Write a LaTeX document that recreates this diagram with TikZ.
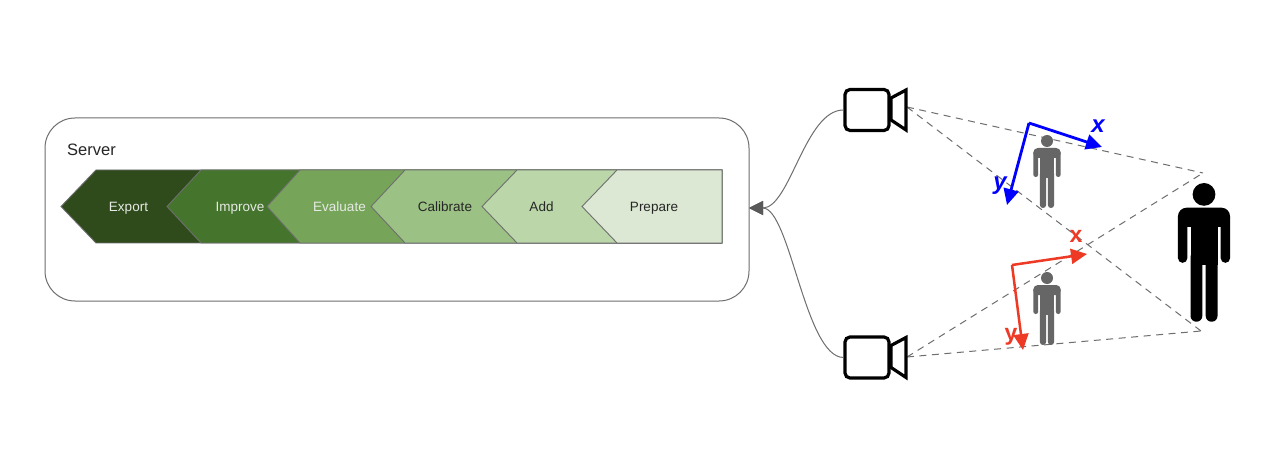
\documentclass[tikz,border=0pt]{standalone}
\usepackage{fontspec}
\setmainfont{Liberation Sans}
\usetikzlibrary{arrows.meta}
\definecolor{cA}{HTML}{2F4A1B}
\definecolor{cB}{HTML}{45752D}
\definecolor{cC}{HTML}{76A55A}
\definecolor{cD}{HTML}{9CC184}
\definecolor{cE}{HTML}{BBD6A9}
\definecolor{cF}{HTML}{DCE8D3}
\definecolor{axisred}{HTML}{EE3A24}
\definecolor{edgegrey}{HTML}{6E6E6E}
\definecolor{persongrey}{HTML}{666666}
\tikzset{
  serverbox/.style={draw=edgegrey,line width=1pt,rounded corners=30pt,minimum width=704pt,minimum height=183pt,inner sep=0pt,fill=white},
  chev/.style={draw=edgegrey,line width=0.9pt,line join=miter},
  lighttext/.style={anchor=base,text=white!88!cA,font=\fontsize{13.5}{16}\selectfont,inner sep=0pt},
  darktext/.style={anchor=base,text=black!85,font=\fontsize{13.5}{16}\selectfont,inner sep=0pt},
  link/.style={draw=edgegrey,line width=1pt,-{Triangle[length=14pt,width=14pt,fill=black!65,color=black!65]}},
  sight/.style={draw=edgegrey,line width=1pt,dash pattern=on 7pt off 5.5pt},
  cambody/.style={draw=black,line width=3.2pt,rounded corners=5pt,minimum width=44pt,minimum height=41pt,inner sep=0pt,fill=white},
  camlens/.style={draw=black,line width=3.2pt,line join=miter,fill=white},
  bluearrow/.style={draw=blue,line width=2.8pt,line join=miter,-{Triangle[length=16pt,width=15pt]}},
  redarrow/.style={draw=axisred,line width=2.5pt,line join=miter,-{Triangle[length=16pt,width=15pt]}},
  bluelabel/.style={text=blue,inner sep=0pt,font=\fontsize{24}{26}\selectfont\bfseries\itshape},
  redlabel/.style={text=axisred,inner sep=0pt,font=\fontsize{23}{26}\selectfont\bfseries},
}
% #1 x of the centre, #2 y of the head top, #3 scale, #4 colour
\newcommand{\personfig}[4]{%
  \begin{scope}[shift={(#1,#2)},x=#3pt,y=-#3pt]
    \pgfmathsetmacro{\rr}{#3*4.5}
    \pgfmathsetmacro{\rs}{#3*2.4}
    \pgfmathsetmacro{\rl}{#3*3}
    \fill[#4] (0,6) circle[radius=6];
    \fill[#4,rounded corners=\rr pt] (-13.7,13) -- (13.7,13) -- (13.7,23) -- (-13.7,23) -- cycle;
    \fill[#4,rounded corners=\rs pt] (-13.7,16) rectangle (-8.8,42);
    \fill[#4,rounded corners=\rs pt] (8.8,16) rectangle (13.7,42);
    \fill[#4] (-8.8,17) rectangle (8.8,23);
    \fill[#4] (-7.1,20) rectangle (7.1,43);
    \fill[#4,rounded corners=\rl pt] (-7.1,36) rectangle (-0.9,73);
    \fill[#4,rounded corners=\rl pt] (0.9,36) rectangle (7.1,73);
  \end{scope}}
\begin{document}
\begin{tikzpicture}[x=1pt,y=-1pt]
\useasboundingbox (0,0) rectangle (1279,462);
\fill[white] (0,0) rectangle (1279,462);

% server
\node[serverbox] (server) at (397,209.5) {};
\node[anchor=base west,inner sep=0pt,text=black!85,font=\fontsize{16.5}{20}\selectfont] (servertitle) at (67,156) {Server};

% chevrons
\path[chev,fill=cA] (61,206.5) -- (96,170) -- (722,170) -- (722,243) -- (96,243) -- cycle;
\path[chev,fill=cB] (167,206.5) -- (201,170) -- (722,170) -- (722,243) -- (201,243) -- cycle;
\path[chev,fill=cC] (267,206.5) -- (300,170) -- (722,170) -- (722,243) -- (300,243) -- cycle;
\path[chev,fill=cD] (371,206.5) -- (405,170) -- (722,170) -- (722,243) -- (405,243) -- cycle;
\path[chev,fill=cE] (482,206.5) -- (517,170) -- (722,170) -- (722,243) -- (517,243) -- cycle;
\path[chev,fill=cF] (582,206.5) -- (617,170) -- (722,170) -- (722,243) -- (617,243) -- cycle;
\node[lighttext] (export) at (128.5,211.7) {Export};
\node[lighttext] (improve) at (240,211.7) {Improve};
\node[lighttext] (evaluate) at (339.5,211.7) {Evaluate};
\node[darktext] (calibrate) at (445,211.7) {Calibrate};
\node[darktext] (add) at (541.5,211.7) {Add};
\node[darktext] (prepare) at (654,211.7) {Prepare};

% sight lines
\coordinate (apexA) at (907,107);
\coordinate (apexB) at (907,357);
\coordinate (farA) at (1203,173);
\coordinate (farB) at (1201,331);
\draw[sight] (apexA) -- (farA);
\draw[sight] (apexA) -- (farB);
\draw[sight] (apexB) -- (farA);
\draw[sight] (apexB) -- (farB);

% people
\personfig{1047}{135}{1}{persongrey}
\personfig{1047}{272}{1}{persongrey}
\personfig{1204}{183}{1.9}{black}

% cameras
\node[cambody] (camA) at (867,110) {};
\node[cambody] (camB) at (867,357.5) {};
\draw[camlens] (891,98) -- (906,90) -- (906,130) -- (891,120) -- cycle;
\draw[camlens] (891,345.5) -- (906,337.5) -- (906,377.5) -- (891,367.5) -- cycle;

% links to the server
\coordinate (inlet) at (749,208);
\draw[link] (camA.west) .. controls (805,110) and (790,208) .. (inlet);
\draw[link] (camB.west) .. controls (805,357) and (790,208) .. (inlet);

% blue axes
\coordinate (blueO) at (1029,123);
\coordinate (blueX) at (1102,147);
\coordinate (blueY) at (1007,205);
\draw[bluearrow] (blueO) -- (blueX);
\draw[bluearrow] (blueO) -- (blueY);
\node[bluelabel] (bluexlabel) at (1098,126) {x};
\node[bluelabel] (blueylabel) at (1000,186) {y};

% red axes
\coordinate (redO) at (1012,265);
\coordinate (redX) at (1087,254);
\coordinate (redY) at (1023,350);
\draw[redarrow] (redO) -- (redX);
\draw[redarrow] (redO) -- (redY);
\node[redlabel] (redxlabel) at (1076,236) {x};
\node[redlabel] (redylabel) at (1011,337) {y};
\end{tikzpicture}
\end{document}
